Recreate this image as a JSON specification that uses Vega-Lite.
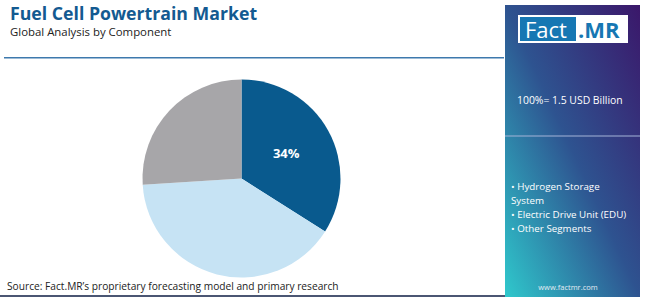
{
  "$schema": "https://vega.github.io/schema/vega-lite/v6.json",
  "padding": 0,
  "background": "white",
  "spacing": 0,
  "config": {"view": {"stroke": null}, "font": "Open Sans"},
  "hconcat": [
    {
      "vconcat": [
        {
          "width": 505,
          "height": 58,
          "data": {"values": [{}]},
          "layer": [
            {"mark": {"type": "text", "text": "Fuel Cell Powertrain Market", "x": 10, "y": 19.5, "align": "left", "baseline": "alphabetic", "font": "Open Sans", "fontWeight": "bold", "fontSize": 17.7, "color": "#135a91"}},
            {"mark": {"type": "text", "text": "Global Analysis by Component", "x": 10, "y": 36, "align": "left", "baseline": "alphabetic", "font": "Open Sans", "fontSize": 11.4, "color": "#222222"}},
            {"mark": {"type": "rect", "x": 4, "x2": 504, "y": 57, "y2": 58.4, "color": "#3d79ad"}}
          ]
        },
        {
          "width": 483,
          "height": 239,
          "data": {"values": [
            {"segment": "Hydrogen Storage System", "share": 34, "rank": 1, "label": "34%"},
            {"segment": "Electric Drive Unit (EDU)", "share": 40, "rank": 2, "label": ""},
            {"segment": "Other Segments", "share": 26, "rank": 3, "label": ""}
          ]},
          "layer": [
            {
              "mark": {"type": "arc", "outerRadius": 99},
              "encoding": {
                "theta": {"field": "share", "type": "quantitative", "stack": true},
                "order": {"field": "rank", "type": "quantitative"},
                "color": {"field": "segment", "type": "nominal", "legend": null,
                  "scale": {"domain": ["Hydrogen Storage System", "Electric Drive Unit (EDU)", "Other Segments"], "range": ["#095a8e", "#c6e3f4", "#a7a6a9"]}}
              }
            },
            {
              "mark": {"type": "text", "radius": 51, "font": "Open Sans", "fontWeight": "bold", "fontSize": 13, "fill": "white"},
              "encoding": {
                "theta": {"field": "share", "type": "quantitative", "stack": true},
                "order": {"field": "rank", "type": "quantitative"},
                "text": {"field": "label"}
              }
            },
            {"data": {"values": [{}]}, "mark": {"type": "text", "text": "Source: Fact.MR\u2019s proprietary forecasting model and primary research", "x": 7, "y": 231, "align": "left", "baseline": "alphabetic", "font": "Open Sans", "fontSize": 10.2, "color": "#222222"}},
            {"data": {"values": [{}]}, "mark": {"type": "rect", "x": 0, "x2": 505, "y": 236, "y2": 239, "color": "#4b5673"}}
          ]
        }
      ],
      "spacing": 0
    },
    {
      "width": 145,
      "height": 297,
      "data": {"values": [{}]},
      "layer": [
        {"mark": {"type": "rect", "x": 0, "x2": 135, "y": 5, "y2": 297,
          "color": {"gradient": "linear", "x1": 1, "y1": 0, "x2": 0, "y2": 1,
            "stops": [{"offset": 0, "color": "#3b176a"}, {"offset": 0.5, "color": "#2e5390"}, {"offset": 1, "color": "#2fc8cc"}]}}},
        {"mark": {"type": "rect", "x": 13, "x2": 123, "y": 15, "y2": 43, "color": "white"}},
        {"mark": {"type": "rect", "x": 15, "x2": 71, "y": 17, "y2": 41, "color": "#1677b3"}},
        {"mark": {"type": "text", "text": "Fact", "x": 20, "y": 38, "align": "left", "baseline": "alphabetic", "font": "Open Sans", "fontSize": 22, "color": "white"}},
        {"mark": {"type": "text", "text": ".MR", "x": 73, "y": 38, "align": "left", "baseline": "alphabetic", "font": "Open Sans", "fontWeight": "bold", "fontSize": 22, "color": "#1677b3"}},
        {"mark": {"type": "text", "text": "100%= 1.5 USD Billion", "x": 12, "y": 104, "align": "left", "baseline": "alphabetic", "font": "Open Sans", "fontSize": 10.4, "color": "white"}},
        {"mark": {"type": "rect", "x": 0, "x2": 135, "y": 135.5, "y2": 136.6, "color": "#a3b4d8"}},
        {"mark": {"type": "text", "text": ["\u2022 Hydrogen Storage", "System", "\u2022 Electric Drive Unit (EDU)", "\u2022 Other Segments"], "x": 6, "y": 190, "lineHeight": 14, "align": "left", "baseline": "alphabetic", "font": "Open Sans", "fontSize": 9.8, "color": "white"}},
        {"mark": {"type": "text", "text": "www.factmr.com", "x": 63, "y": 290, "align": "center", "baseline": "alphabetic", "font": "Open Sans", "fontSize": 7.5, "color": "#e3ebf3"}}
      ]
    }
  ]
}
